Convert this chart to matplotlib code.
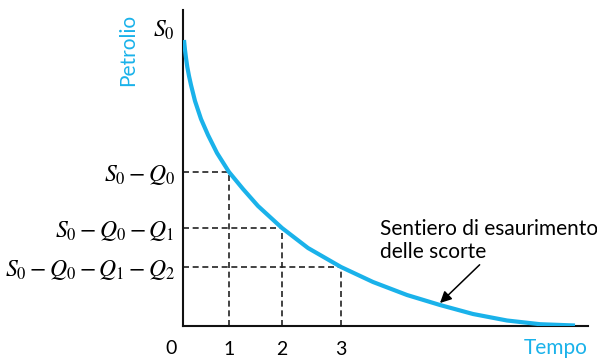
import matplotlib.pyplot as plt

# curve of the depletion path (arbitrary units)
tempo = [1, 2, 3, 4.3, 6, 8, 12, 18, 25, 34, 46, 60, 75, 99, 125, 158,
         190, 224, 257, 290, 324, 357, 392]
petrolio = [286, 276, 268, 259, 250, 241, 225, 207, 191, 173, 154, 137, 120, 98, 78, 59,
            44, 31, 21, 12, 5.5, 1.8, 0.5]

# points where the dashed guides meet the curve
periodi = ['1', '2', '3']
periodi_x = [46, 99, 158]
livelli_y = [154, 98, 59]
livelli_lab = ['$S_0 - Q_0$', '$S_0 - Q_0 - Q_1$', '$S_0 - Q_0 - Q_1 - Q_2$']
s0 = 298

blu = '#1ab2ea'
plt.rcParams['mathtext.fontset'] = 'stix'
plt.rcParams['font.family'] = ['Lato', 'DejaVu Sans']

fig = plt.figure(figsize=(5.97, 3.59), dpi=100)
ax = fig.add_axes([183/597, 33/359, 405/597, 316/359])
ax.set_xlim(0, 405)
ax.set_ylim(0, 316)

ax.plot(tempo, petrolio, color=blu, lw=3.0, solid_capstyle='butt',
        solid_joinstyle='round', zorder=3)

# dashed guides
for x, y in zip(periodi_x, livelli_y):
    ax.plot([0, x], [y, y], color='#222222', lw=1.2, ls=(0, (3.6, 2.2)), zorder=2)
    ax.plot([x, x], [0, y], color='#222222', lw=1.2, ls=(0, (3.6, 2.2)), zorder=2)

for side in ['top', 'right']:
    ax.spines[side].set_visible(False)
for side in ['left', 'bottom']:
    ax.spines[side].set_linewidth(1.5)
    ax.spines[side].set_color('#111111')

ax.set_xticks(periodi_x)
ax.set_xticklabels(periodi, fontsize=14)
ax.set_yticks([s0] + livelli_y)
ax.set_yticklabels(['$S_0$'] + livelli_lab, fontsize=17)
ax.tick_params(axis='both', length=0)
ax.tick_params(axis='x', pad=11)
ax.tick_params(axis='y', pad=6)

ax.text(-12, -22, '0', fontsize=14, ha='center', va='center')
ax.text(405, -22, 'Tempo', fontsize=15, color=blu, ha='right', va='center')
ax.text(-55, 276, 'Petrolio', fontsize=15, color=blu, rotation=90, ha='center', va='center')

ax.annotate('Sentiero di esaurimento\ndelle scorte', xy=(257, 23), xytext=(197, 64),
            fontsize=15, ha='left', va='bottom', linespacing=1.2,
            arrowprops=dict(arrowstyle='-|>', color='black', lw=1.1,
                            shrinkA=0, shrinkB=0, mutation_scale=17,
                            relpos=(0.47, 0)))

fig.savefig('out.png', dpi=100)
